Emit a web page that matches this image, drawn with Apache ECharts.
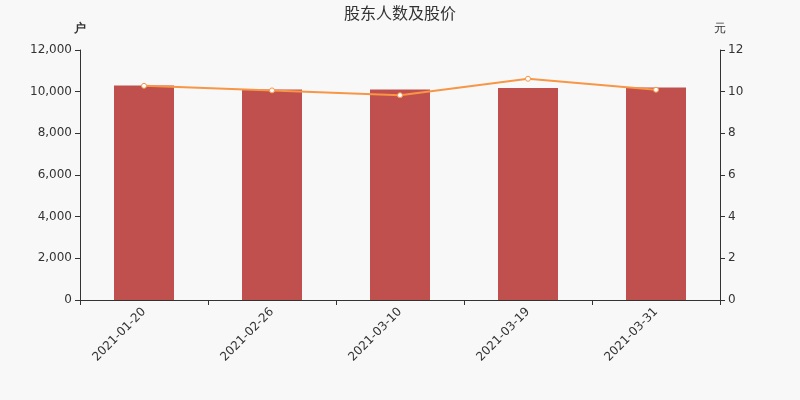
<!DOCTYPE html>
<html><head><meta charset="utf-8">
<script src="https://cdn.jsdelivr.net/npm/echarts@6/dist/echarts.min.js"></script>
<style>html,body{margin:0;padding:0;background:#f8f8f8}#c{width:800px;height:400px}</style>
</head><body><div id="c"></div>
<script>
var categories = ['2021-01-20','2021-02-26','2021-03-10','2021-03-19','2021-03-31'];
var holders = [10300, 10110, 10100, 10180, 10200];
var prices = [10.28, 10.06, 9.83, 10.62, 10.09];
var chart = echarts.init(document.getElementById('c'));
chart.setOption({
  backgroundColor: '#f8f8f8',
  animation: false,
  textStyle: {fontFamily: 'DejaVu Sans'},
  title: {text: '股东人数及股价', left: 'center', top: 2, textStyle: {fontSize: 16, fontWeight: 'normal', color: '#333', fontFamily: 'DejaVu Sans, Noto Sans CJK SC'}},
  grid: {left: 80, right: 80, top: 50, bottom: 100},
  xAxis: {type: 'category', data: categories,
    axisLine: {lineStyle: {color: '#333'}},
    axisTick: {show: true, alignWithLabel: false},
    axisLabel: {rotate: 45, color: '#333', fontSize: 12, margin: 10, fontFamily: 'DejaVu Sans'}},
  yAxis: [
    {type: 'value', name: '户', min: 0, max: 12000, interval: 2000,
     nameTextStyle: {fontWeight: 'bold', color: '#333'},
     axisLine: {show: true, lineStyle: {color: '#333'}}, axisTick: {show: true},
     splitLine: {show: false}, axisLabel: {color: '#333', fontFamily: 'DejaVu Sans', formatter: function(v){return v.toLocaleString('en-US');}}},
    {type: 'value', name: '元', min: 0, max: 12, interval: 2,
     nameTextStyle: {color: '#333'},
     axisLine: {show: true, lineStyle: {color: '#333'}}, axisTick: {show: true},
     splitLine: {show: false}, axisLabel: {color: '#333', fontFamily: 'DejaVu Sans'}}
  ],
  series: [
    {type: 'bar', data: holders, barWidth: 60, itemStyle: {color: '#c0504d'}},
    {type: 'line', yAxisIndex: 1, data: prices, symbol: 'circle', symbolSize: 5,
     lineStyle: {color: '#f79646', width: 2},
     itemStyle: {color: '#fff', borderColor: '#f79646', borderWidth: 1}}
  ]
});
</script></body></html>
